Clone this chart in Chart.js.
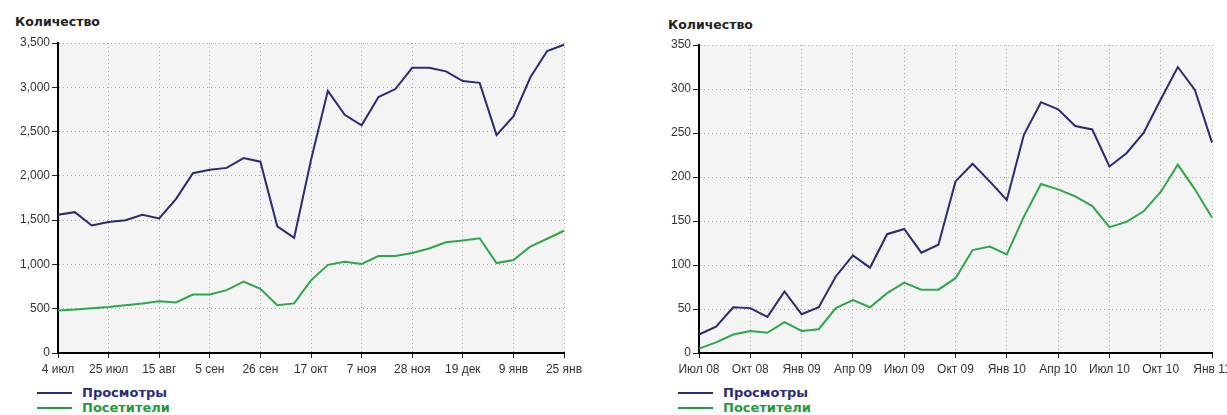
<!DOCTYPE html>
<html>
<head>
<meta charset="utf-8">
<script src="https://cdn.jsdelivr.net/npm/chart.js@4/dist/chart.umd.min.js"></script>
<style>
    body { margin:0; width:1227px; height:415px; overflow:hidden; background:#fff; position:relative; }
    .title { position:absolute; font:bold 12.5px "DejaVu Sans", sans-serif; color:#222; line-height:14px; }
    .box { position:absolute; top:0; width:620px; height:380px; }
    .legend { position:absolute; top:386px; font:bold 13px "DejaVu Sans", sans-serif; }
    .legend div { position:relative; height:14.5px; line-height:14px; padding-left:45px; }
    .legend div::before { content:''; position:absolute; left:0; top:6px; width:35px; height:2px; background:currentColor; }
</style>
</head>
<body>

<div class="title" style="left:15px; top:15px;">Количество</div>
<div class="box" style="left:0; width:610px;"><canvas id="weekly"></canvas></div>
<div class="legend" style="left:37px;">
    <div style="color:#2b2b78">Просмотры</div>
    <div style="color:#1f9a3c">Посетители</div>
</div>

<div class="title" style="left:668px; top:18px;">Количество</div>
<div class="box" style="left:640px;"><canvas id="monthly"></canvas></div>
<div class="legend" style="left:678px;">
    <div style="color:#2b2b78">Просмотры</div>
    <div style="color:#1f9a3c">Посетители</div>
</div>

<script>
// --- 1. DATA ---
// left chart: weekly, labelled every 3rd week
const weekLabels = ['4 июл','11 июл','18 июл','25 июл','1 авг','8 авг','15 авг','22 авг','29 авг','5 сен',
    '12 сен','19 сен','26 сен','3 окт','10 окт','17 окт','24 окт','31 окт','7 ноя','14 ноя',
    '21 ноя','28 ноя','5 дек','12 дек','19 дек','26 дек','2 янв','9 янв','14 янв','20 янв','25 янв'];
const weekViews = [1560, 1590, 1440, 1480, 1500, 1560, 1520, 1740, 2030, 2070,
    2090, 2200, 2160, 1430, 1300, 2180, 2960, 2690, 2570, 2890,
    2980, 3220, 3220, 3180, 3070, 3050, 2460, 2670, 3110, 3410, 3480];
const weekVisitors = [480, 490, 505, 520, 540, 560, 585, 570, 660, 660,
    710, 805, 725, 540, 560, 820, 995, 1030, 1005, 1095,
    1095, 1130, 1180, 1250, 1270, 1295, 1015, 1050, 1200, 1290, 1380];

// right chart: monthly, labelled every quarter
const monthLabels = ['Июл 08','Авг 08','Сен 08','Окт 08','Ноя 08','Дек 08','Янв 09','Фев 09','Мар 09','Апр 09',
    'Май 09','Июн 09','Июл 09','Авг 09','Сен 09','Окт 09','Ноя 09','Дек 09','Янв 10','Фев 10',
    'Мар 10','Апр 10','Май 10','Июн 10','Июл 10','Авг 10','Сен 10','Окт 10','Ноя 10','Дек 10','Янв 11'];
const monthViews = [21, 30, 52, 51, 41, 70, 44, 52, 87, 111,
    97, 135, 141, 114, 123, 195, 215, 195, 174, 248,
    285, 277, 258, 254, 212, 227, 250, 288, 325, 299, 239];
const monthVisitors = [5, 12, 21, 25, 23, 35, 25, 27, 51, 60,
    52, 68, 80, 72, 72, 85, 117, 121, 112, 155,
    192, 186, 178, 167, 143, 149, 161, 183, 214, 186, 154];

const BLUE = '#2b2b72';
const GREEN = '#2ea64a';

// --- 2. HELPERS ---
const plotBg = {
    id: 'plotBg',
    beforeDraw(chart) {
        const { ctx, chartArea: a } = chart;
        ctx.save();
        ctx.fillStyle = '#f4f4f4';
        ctx.fillRect(a.left, a.top, a.right - a.left, a.bottom - a.top);
        ctx.restore();
    }
};

function makeChart(id, labels, views, visitors, yMax, yStep, pad, yWidth) {
    const tickFont = { family: '"Liberation Sans", Arial, sans-serif', size: 12 };
    new Chart(document.getElementById(id), {
        type: 'line',
        data: {
            labels: labels,
            datasets: [
                { label: 'Просмотры', data: views, borderColor: BLUE, borderWidth: 2, pointRadius: 0, tension: 0 },
                { label: 'Посетители', data: visitors, borderColor: GREEN, borderWidth: 2, pointRadius: 0, tension: 0 }
            ]
        },
        options: {
            responsive: false,
            animation: false,
            devicePixelRatio: 1,
            layout: { padding: pad },
            plugins: { legend: { display: false }, tooltip: { enabled: false } },
            scales: {
                x: {
                    afterFit: s => { s.height = 27; },
                    grid: {
                        color: c => c.index % 3 === 0 ? '#aaa' : 'transparent',
                        tickColor: c => c.index % 3 === 0 ? '#222' : 'transparent',
                        tickLength: 5, tickWidth: 1, tickBorderDash: []
                    },
                    border: { color: '#000', width: 2, dash: [1, 3] },
                    ticks: {
                        autoSkip: false, maxRotation: 0, padding: 4, color: '#333', font: tickFont,
                        callback: (v, i) => i % 3 === 0 ? labels[i] : ''
                    }
                },
                y: {
                    min: 0, max: yMax,
                    afterFit: s => { s.width = yWidth; },
                    grid: { color: '#aaa', tickColor: '#222', tickLength: 6, tickWidth: 1, tickBorderDash: [] },
                    border: { color: '#000', width: 2, dash: [1, 3] },
                    ticks: {
                        stepSize: yStep, padding: 2, color: '#333', font: tickFont,
                        callback: v => v.toLocaleString('en-US')
                    }
                }
            }
        },
        plugins: [plotBg]
    });
}

// --- 3. RENDER ---
const c1 = document.getElementById('weekly');
c1.width = 610; c1.height = 380;
const c2 = document.getElementById('monthly');
c2.width = 620; c2.height = 380;

makeChart('weekly', weekLabels, weekViews, weekVisitors, 3500, 500, { top: 43, right: 46, left: 0, bottom: 0 }, 58);
makeChart('monthly', monthLabels, monthViews, monthVisitors, 350, 50, { top: 45, right: 48, left: 0, bottom: 0 }, 59);
</script>
</body>
</html>
